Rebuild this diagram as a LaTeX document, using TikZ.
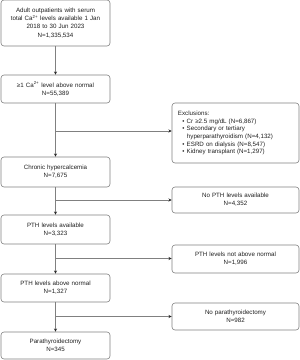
\documentclass[tikz,border=0pt]{standalone}
\usepackage{fontspec}
\setmainfont{Liberation Sans}
\usetikzlibrary{arrows.meta}
\definecolor{edge}{gray}{0.5}
\definecolor{txt}{gray}{0.12}
\tikzset{
  box/.style={draw=edge, line width=0.6pt, rounded corners=3pt, align=center,
    inner sep=0pt, text=txt, font=\fontsize{6.2}{8.2}\selectfont},
  mainbox/.style={box, minimum width=109pt, text width=105pt},
  sidebox/.style={box, minimum width=127pt, text width=123pt},
  conn/.style={draw=edge, line width=0.6pt},
  arr/.style={conn, -{Stealth[length=3.2pt,width=3pt,color=black!85]}}
}
\begin{document}
\begin{tikzpicture}[x=1pt,y=-1pt]
\useasboundingbox (0,0) rectangle (300,360);
\node[mainbox, minimum height=46pt] (b1) at (55.5,23)
  {Adult outpatients with serum\\ total Ca\textsuperscript{2+} levels available 1 Jan\\ 2018 to 30 Jun 2023\\ N=1,335,534};
\node[mainbox, minimum height=28pt] (b2) at (55.5,89)
  {≥1 Ca\textsuperscript{2+} level above normal\\ N=55,389};
\node[mainbox, minimum height=30pt] (b3) at (55.5,172)
  {Chronic hypercalcemia\\ N=7,675};
\node[mainbox, minimum height=29pt] (b4) at (55.5,229.5)
  {PTH levels available\\ N=3,323};
\node[mainbox, minimum height=28pt] (b5) at (55.5,288)
  {PTH levels above normal\\ N=1,327};
\node[mainbox, minimum height=27pt] (b6) at (55.5,345.5)
  {Parathyroidectomy\\ N=345};
\node[sidebox, minimum height=60pt, align=left, font=\fontsize{6.2}{7.6}\selectfont] (ex) at (235.5,133)
  {\hspace*{4pt}Exclusions:\\
   \hspace*{8.5pt}\textbullet\ Cr ≥2.5 mg/dL (N=6,867)\\
   \hspace*{8.5pt}\textbullet\ Secondary or tertiary\\
   \hspace*{13pt}hyperparathyroidism (N=4,132)\\
   \hspace*{8.5pt}\textbullet\ ESRD on dialysis (N=8,547)\\
   \hspace*{8.5pt}\textbullet\ Kidney transplant (N=1,297)};
\node[sidebox, minimum height=26pt] (r1) at (235.5,200) {No PTH levels available\\ N=4,352};
\node[sidebox, minimum height=28pt] (r2) at (235.5,259) {PTH levels not above normal\\ N=1,996};
\node[sidebox, minimum height=27pt] (r3) at (235.5,316.5) {No parathyroidectomy\\ N=982};
\coordinate (j1) at (55.5,131);
\coordinate (j2) at (55.5,200);
\coordinate (j3) at (55.5,258.5);
\coordinate (j4) at (55.5,316.5);
\draw[arr] (b1) -- (b2);
\draw[arr] (b2) -- (b3);
\draw[arr] (b3) -- (b4);
\draw[arr] (b4) -- (b5);
\draw[arr] (b5) -- (b6);
\draw[arr] (j1) -- (j1 -| ex.west);
\draw[arr] (j2) -- (j2 -| r1.west);
\draw[arr] (j3) -- (j3 -| r2.west);
\draw[arr] (j4) -- (j4 -| r3.west);
\end{tikzpicture}
\end{document}
